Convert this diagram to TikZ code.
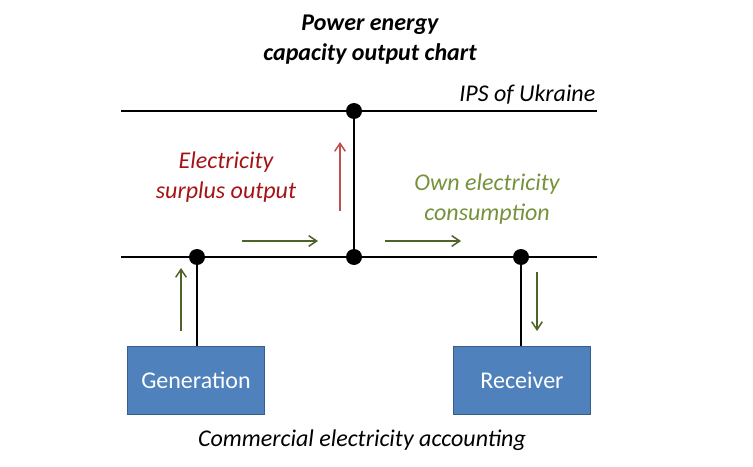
\documentclass[tikz,border=0pt]{standalone}
\usepackage{fontspec}
\setmainfont{Carlito}
\usetikzlibrary{arrows.meta}
\begin{document}
\begin{tikzpicture}[x=0.75pt, y=-0.75pt]
    % Define colors
    \definecolor{boxfill}{RGB}{79,129,189}
    \definecolor{boxline}{RGB}{56,93,138}
    \definecolor{flow}{RGB}{79,98,40}
    \definecolor{surplus}{RGB}{192,80,77}
    \definecolor{surplustext}{RGB}{165,20,20}
    \definecolor{owntext}{RGB}{118,146,60}

    % Define styles
    \tikzstyle{bus} = [line width=1.5pt]
    \tikzstyle{dot} = [circle, fill=black, inner sep=0pt, minimum size=12pt]
    \tikzstyle{unit} = [rectangle, fill=boxfill, draw=boxline, line width=1.2pt, minimum width=103pt, minimum height=51pt, text=white, font=\fontsize{18}{21}\selectfont]
    \tikzstyle{label} = [align=center, font=\fontsize{18}{22}\selectfont\itshape]
    \tikzstyle{flowarrow} = [-{Straight Barb[length=6pt, width=8pt]}, line width=1.1pt]

    \useasboundingbox (0,0) rectangle (753,467);

    % Title
    \node[label, font=\fontsize{18}{22.5}\selectfont\bfseries\itshape] (title) at (370,40) {Power energy\\capacity output chart};

    % Bus ends
    \coordinate (ipsL) at (121,111);
    \coordinate (ipsR) at (597,111);
    \coordinate (busL) at (121,257);
    \coordinate (busR) at (597,257);

    % Junction dots
    \node[dot] (ipsdot) at (354,111) {};
    \node[dot] (gendot) at (197,257) {};
    \node[dot] (middot) at (354,257) {};
    \node[dot] (recdot) at (521,257) {};

    % Units
    \node[unit] (gen) at (196,380.5) {Generation};
    \node[unit] (rec) at (522,380.5) {Receiver};

    % Lines
    \draw[bus] (ipsL) -- (ipsR);
    \draw[bus] (busL) -- (busR);
    \draw[bus] (ipsdot.center) -- (middot.center);
    \draw[bus] (gendot.center) -- (gen.north -| gendot);
    \draw[bus] (recdot.center) -- (rec.north -| recdot);

    % Texts
    \node[label, anchor=east] (ips) at (600,95) {IPS of Ukraine};
    \node[label, text=surplustext] (surplustxt) at (226,177) {Electricity\\surplus output};
    \node[label, text=owntext] (owntxt) at (487,199) {Own electricity\\consumption};
    \node[label] (accounting) at (362,440) {Commercial electricity accounting};

    % Flow arrows
    \coordinate (genup0) at (181,331);
    \coordinate (genup1) at (181,268);
    \coordinate (flowa0) at (242,241);
    \coordinate (flowa1) at (318,241);
    \coordinate (flowb0) at (385,241);
    \coordinate (flowb1) at (461,241);
    \coordinate (outup0) at (340,211);
    \coordinate (outup1) at (340,142);
    \coordinate (recdn0) at (537,272);
    \coordinate (recdn1) at (537,331);
    \draw[flowarrow, flow] (genup0) -- (genup1);
    \draw[flowarrow, flow] (flowa0) -- (flowa1);
    \draw[flowarrow, flow] (flowb0) -- (flowb1);
    \draw[flowarrow, surplus] (outup0) -- (outup1);
    \draw[flowarrow, flow] (recdn0) -- (recdn1);
\end{tikzpicture}
\end{document}
